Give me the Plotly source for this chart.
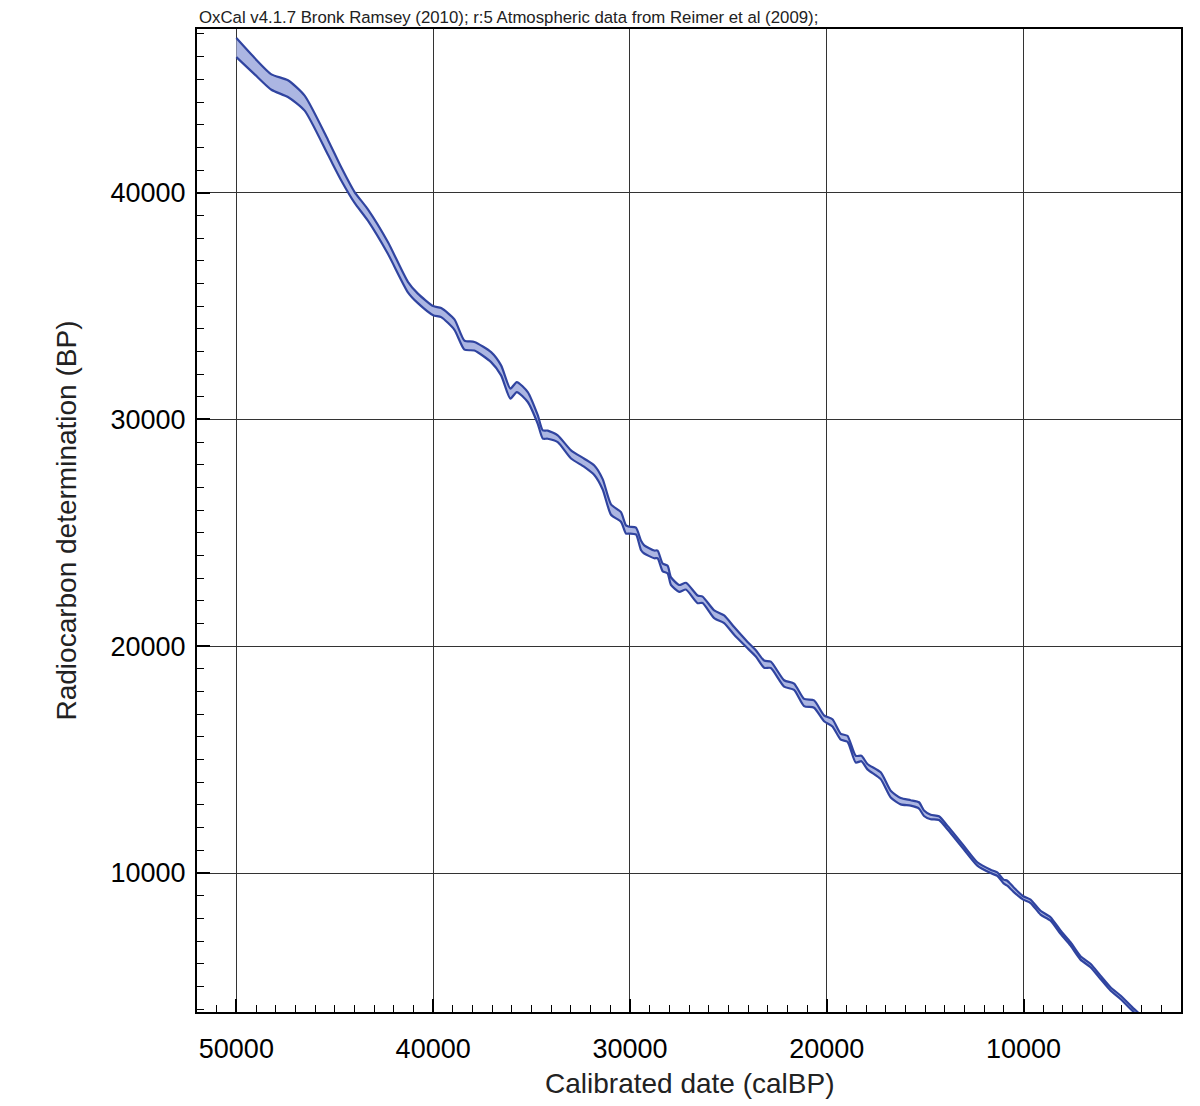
import plotly.graph_objects as go

# IntCal09 curve
cal_bp = [50000, 49070, 48220, 47380, 46530, 45345, 44670, 44000, 43316, 42301,
          41284, 40776, 40000, 39594, 38919, 38411, 37904, 37056, 36548, 36076,
          35751, 35193, 34685, 34431, 34178, 33670, 32995, 32320, 31812, 31386,
          30964, 30457, 30203, 30036, 29695, 29442, 29274, 28766, 28594, 28340,
          28086, 27919, 27497, 27157, 26563, 26310, 25721, 25213, 24706, 24025,
          23604, 23182, 22843, 22168, 21660, 21152, 20645, 20137, 19711, 19289,
          18949, 18528, 18239, 17934, 17259, 16751, 16244, 15736, 15313, 15059,
          14721, 14299, 13873, 13452, 13030, 12350, 11675, 11335, 11015, 10827,
          10508, 10015, 9645, 9137, 8629, 8122, 7614, 7107, 6599, 6091,
          5584, 5076, 4482, 4000]

c14_bp = [46400, 45580, 44880, 44590, 43950, 42000, 40830, 39800, 39015, 37565,
          35840, 35340, 34800, 34715, 34185, 33280, 33230, 32750, 32165, 31140,
          31430, 30990, 30000, 29340, 29330, 29150, 28460, 28090, 27760, 27140,
          26030, 25700, 25150, 25120, 25080, 24456, 24270, 24050, 24050, 23480,
          23380, 22880, 22550, 22650, 22070, 22050, 21410, 21190, 20675, 20050,
          19685, 19210, 19180, 18360, 18215, 17520, 17450, 16820, 16620, 16010,
          15920, 15020, 15050, 14690, 14290, 13480, 13165, 13090, 12980, 12635,
          12470, 12420, 12010, 11570, 11115, 10400, 10070, 9950, 9625, 9550,
          9270, 8900, 8750, 8250, 7975, 7390, 6870, 6255, 5920, 5400,
          4890, 4520, 4010, 3600]

c14_err = [420, 360, 340, 370, 330, 330, 290, 240, 250, 260,
           230, 210, 200, 200, 230, 200, 190, 220, 220, 220,
           220, 220, 190, 180, 180, 150, 180, 180, 210, 230,
           230, 210, 180, 150, 150, 210, 180, 170, 170, 170,
           170, 170, 150, 150, 170, 140, 170, 170, 170, 140,
           140, 160, 140, 140, 140, 160, 160, 130, 160, 130,
           130, 150, 120, 120, 150, 150, 140, 120, 140, 120,
           100, 80, 80, 80, 80, 75, 75, 75, 85, 110,
           100, 75, 75, 85, 75, 75, 75, 75, 75, 75,
           75, 75, 75, 75]

upper = [c + e for c, e in zip(c14_bp, c14_err)]
lower = [c - e for c, e in zip(c14_bp, c14_err)]

fig = go.Figure()
fig.add_trace(go.Scatter(
    x=cal_bp + cal_bp[::-1],
    y=upper + lower[::-1],
    mode='lines', fill='toself',
    fillcolor='rgb(172,182,226)',
    line=dict(color='rgb(48,68,160)', width=2.2, shape='spline', smoothing=0.6),
    hoverinfo='skip', showlegend=False))

tick_font = dict(family='Liberation Sans, Arial, sans-serif', size=27, color='black')

fig.update_xaxes(
    range=[52000, 2000], tick0=0, dtick=10000, tickformat='d',
    ticks='inside', ticklen=13, tickwidth=1.5, tickcolor='black',
    showline=True, linecolor='black', linewidth=2, mirror=True,
    showgrid=True, gridcolor='#333333', gridwidth=1, zeroline=False,
    tickfont=tick_font, ticklabelstandoff=12,
    minor=dict(dtick=1000, ticks='inside', ticklen=7, tickwidth=1, tickcolor='black', showgrid=False))
fig.update_yaxes(
    range=[3870, 47220], tick0=0, dtick=10000, tickformat='d',
    ticks='inside', ticklen=13, tickwidth=1.5, tickcolor='black',
    showline=True, linecolor='black', linewidth=2, mirror=True,
    showgrid=True, gridcolor='#333333', gridwidth=1, zeroline=False,
    tickfont=tick_font, ticklabelstandoff=4,
    minor=dict(dtick=1000, ticks='inside', ticklen=7, tickwidth=1, tickcolor='black', showgrid=False))

label_font = dict(family='Liberation Sans, Arial, sans-serif', size=28, color='#222')
fig.update_layout(
    width=1200, height=1106,
    margin=dict(l=197, r=19, t=29, b=94),
    plot_bgcolor='white', paper_bgcolor='white',
    annotations=[
        dict(text='Radiocarbon determination (BP)', textangle=-90, font=label_font,
             xref='paper', yref='paper', x=-0.1331, y=0.5, xanchor='center', yanchor='middle',
             showarrow=False),
        dict(text='Calibrated date (calBP)', font=label_font,
             xref='paper', yref='paper', x=0.5, y=-0.0732, xanchor='center', yanchor='middle',
             showarrow=False),
        dict(text='OxCal v4.1.7 Bronk Ramsey (2010); r:5 Atmospheric data from Reimer et al (2009);',
             font=dict(family='Liberation Sans, Arial, sans-serif', size=16.8, color='#222'),
             xref='paper', yref='paper', x=0, y=1.0112, xanchor='left', yanchor='middle',
             showarrow=False),
    ])

# drop the default body margin so the figure sits at the page corner
fig.write_html("out.html", config={'displayModeBar': False},
               post_script="document.body.style.margin='0';")
